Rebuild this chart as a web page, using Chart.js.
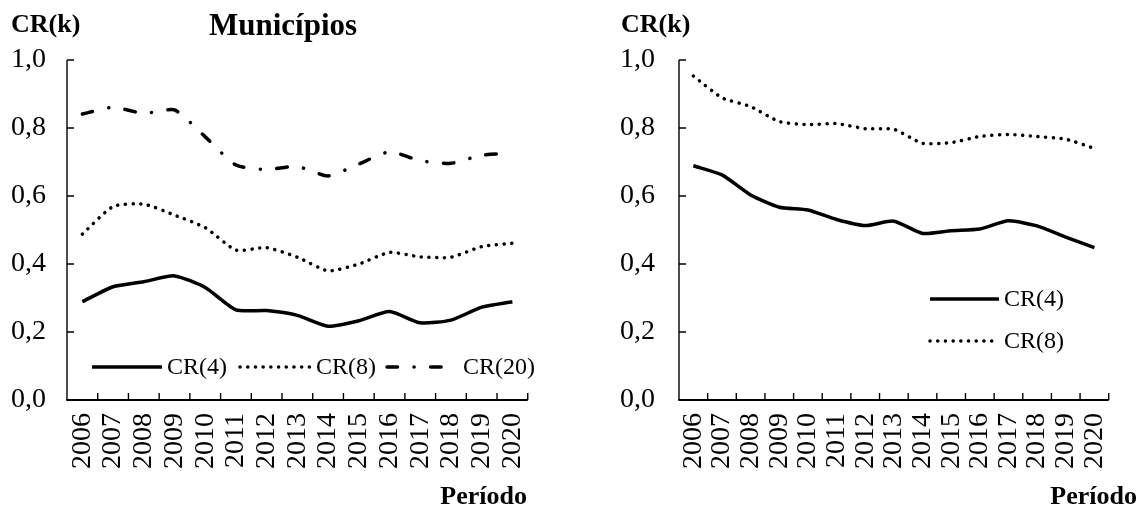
<!DOCTYPE html>
<html><head><meta charset="utf-8">
<script src="https://cdn.jsdelivr.net/npm/chart.js@4"></script>
<style>
html,body{margin:0;padding:0;background:#fff;}
#wrap{position:relative;width:1141px;height:521px;overflow:hidden;background:#fff;}
canvas{position:absolute;top:0;}
.t{position:absolute;font-family:'Liberation Serif','Times New Roman',serif;color:#000;line-height:1;white-space:nowrap;}
</style></head><body>
<div id="wrap">
<canvas id="c1" width="560" height="521" style="left:0px"></canvas>
<canvas id="c2" width="581" height="521" style="left:560px"></canvas>
<div class="t" style="left:11px;top:11px;font-size:26px;font-weight:bold">CR(k)</div>
<div class="t" style="left:283px;top:9px;font-size:31px;font-weight:bold;transform:translateX(-50%)">Municípios</div>
<div class="t" style="left:621px;top:11px;font-size:26px;font-weight:bold">CR(k)</div>
<div class="t" style="right:614px;top:483px;font-size:26px;font-weight:bold">Período</div>
<div class="t" style="right:4px;top:483px;font-size:26px;font-weight:bold">Período</div>
</div>
<script>
const years = ['2006','2007','2008','2009','2010','2011','2012','2013','2014','2015','2016','2017','2018','2019','2020'];
const munCR4  = [0.289,0.333,0.348,0.365,0.331,0.265,0.263,0.249,0.217,0.233,0.260,0.227,0.235,0.273,0.289];
const munCR8  = [0.488,0.569,0.576,0.544,0.507,0.441,0.448,0.420,0.380,0.400,0.434,0.421,0.420,0.451,0.461];
const munCR20 = [0.841,0.861,0.843,0.853,0.774,0.691,0.678,0.687,0.659,0.694,0.730,0.704,0.696,0.720,0.726];
const rCR4    = [0.689,0.662,0.603,0.567,0.559,0.531,0.513,0.526,0.490,0.498,0.503,0.527,0.512,0.479,0.448];
const rCR8    = [0.953,0.889,0.863,0.819,0.810,0.813,0.798,0.796,0.755,0.757,0.775,0.781,0.775,0.767,0.740];
const yMin = 0, yMax = 1, yStep = 0.2;

const FONT = "'Liberation Serif','Times New Roman',serif";
const styles = {
  'CR(4)':  {borderDash: [], borderCapStyle: 'butt'},
  'CR(8)':  {borderDash: [0.1, 7.6], borderCapStyle: 'round'},
  'CR(20)': {borderDash: [10.5, 16.5, 0.1, 16.5], borderCapStyle: 'round'}
};
function ds(label, data){
  return Object.assign({label, data, borderColor:'#000', backgroundColor:'#000', borderWidth:3.5,
    pointRadius:0, pointHoverRadius:0, tension:0.2, fill:false, borderJoinStyle:'round'}, styles[label]);
}

const axesPlugin = {
  id:'axesDraw',
  afterDatasetsDraw(chart){
    const {ctx, chartArea:a, scales:{x,y}} = chart;
    ctx.save();
    ctx.strokeStyle = '#000';
    ctx.setLineDash([]);
    ctx.lineCap = 'butt';
    ctx.lineWidth = 1.4;
    ctx.beginPath();
    ctx.moveTo(a.left, a.top); ctx.lineTo(a.left, a.bottom);
    y.ticks.forEach(t => { const py = Math.round(y.getPixelForValue(t.value)); ctx.moveTo(a.left, py); ctx.lineTo(a.left + 7, py); });
    const n = x.ticks.length;
    for (let i = 0; i <= n; i++) { const px = x.getPixelForValue(i - 0.5); ctx.moveTo(px, a.bottom); ctx.lineTo(px, a.bottom - 7); }
    ctx.stroke();
    ctx.lineWidth = 2;
    ctx.beginPath(); ctx.moveTo(a.left - 0.7, a.bottom); ctx.lineTo(a.right, a.bottom); ctx.stroke();
    ctx.restore();
  }
};

const legendPlugin = {
  id:'inLegend',
  afterDatasetsDraw(chart, args, opts){
    const {ctx} = chart;
    ctx.save();
    ctx.font = '24px ' + FONT;
    ctx.fillStyle = '#000';
    ctx.textBaseline = 'middle';
    (opts.items || []).forEach(it => {
      const d = chart.data.datasets[it.ds];
      ctx.strokeStyle = '#000';
      ctx.lineWidth = d.borderWidth;
      ctx.setLineDash(d.borderDash || []);
      ctx.lineCap = d.borderCapStyle || 'butt';
      ctx.beginPath(); ctx.moveTo(it.x1, it.y); ctx.lineTo(it.x2, it.y); ctx.stroke();
      ctx.setLineDash([]);
      ctx.fillText(d.label, it.tx, it.y + 1);
    });
    ctx.restore();
  }
};

function makeChart(id, datasets, yWidth, yPad, padRight, legendItems){
  return new Chart(document.getElementById(id), {
    type:'line',
    data:{labels: years, datasets},
    options:{
      responsive:false, animation:false, devicePixelRatio:1,
      layout:{padding:{top:60, left:0, right:padRight, bottom:0}},
      plugins:{legend:{display:false}, tooltip:{enabled:false}, inLegend:{items:legendItems}},
      scales:{
        x:{type:'category', offset:true,
           grid:{display:false, drawTicks:false}, border:{display:false},
           ticks:{autoSkip:false, minRotation:90, maxRotation:90, padding:13, color:'#000', font:{family:FONT, size:28}},
           afterFit(s){ s.height = 121; }},
        y:{min:yMin, max:yMax,
           grid:{display:false, drawTicks:false}, border:{display:false},
           ticks:{stepSize:yStep, padding:yPad, color:'#000', font:{family:FONT, size:28},
                  callback:v => Number(v).toFixed(1).replace('.', ',')},
           afterFit(s){ s.width = yWidth; }}
      }
    },
    plugins:[axesPlugin, legendPlugin]
  });
}

makeChart('c1', [ds('CR(4)', munCR4), ds('CR(8)', munCR8), ds('CR(20)', munCR20)], 67, 21, 30, [
  {ds:0, x1:92, x2:162, y:367, tx:167},
  {ds:1, x1:240, x2:311, y:367, tx:316},
  {ds:2, x1:387, x2:450, y:367, tx:463}
]);
makeChart('c2', [ds('CR(4)', rCR4), ds('CR(8)', rCR8)], 119, 24, 0, [
  {ds:0, x1:370, x2:439, y:299, tx:444},
  {ds:1, x1:370, x2:439, y:341, tx:444}
]);
</script>
</body></html>
